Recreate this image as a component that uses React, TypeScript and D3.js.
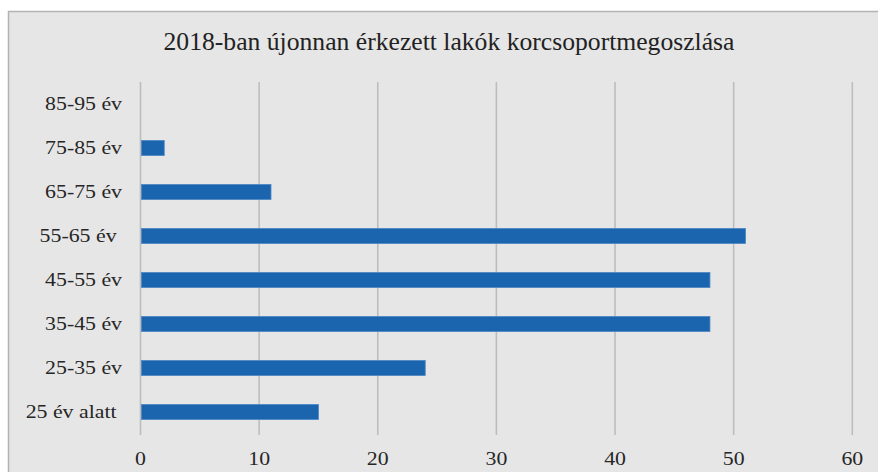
import React, { useEffect, useRef } from 'react';
import * as d3 from 'd3';

const categories = ['85-95 év', '75-85 év', '65-75 év', '55-65 év ', '45-55 év', '35-45 év', '25-35 év', '25 év alatt '];
const values = [0, 2, 11, 51, 48, 48, 24, 15];
const xTicks = [0, 10, 20, 30, 40, 50, 60];
const title = '2018-ban újonnan érkezett lakók korcsoportmegoszlása';

const WIDTH = 878;
const HEIGHT = 472;
const STRETCH = 1.18; // the source labels look horizontally stretched

function App() {
  const svgRef = useRef<SVGSVGElement>(null);

  useEffect(() => {
    if (!svgRef.current) return;
    const svg = d3.select(svgRef.current);
    svg.selectAll('*').remove();

    const font = '"Liberation Serif", "Times New Roman", serif';

    // frame / background
    svg.append('rect')
      .attr('x', 8.5)
      .attr('y', 11.5)
      .attr('width', WIDTH + 20)
      .attr('height', HEIGHT + 20)
      .attr('fill', '#e6e6e6')
      .attr('stroke', '#b3b3b3')
      .attr('stroke-width', 1.5);

    const xScale = d3.scaleLinear().domain([0, 60]).range([140.5, 852.3]);
    const yScale = d3.scaleBand<string>()
      .domain(categories)
      .range([82, 434])
      .paddingInner(0.66)
      .paddingOuter(0.33);

    // gridlines
    svg.append('g')
      .selectAll('line')
      .data(xTicks)
      .enter().append('line')
      .attr('x1', d => xScale(d))
      .attr('x2', d => xScale(d))
      .attr('y1', 82)
      .attr('y2', 435)
      .attr('stroke', '#bdbdbd')
      .attr('stroke-width', 1.6);

    // bars
    svg.append('g')
      .selectAll('rect')
      .data(values)
      .enter().append('rect')
      .attr('x', xScale(0) + 1)
      .attr('y', (d, i) => yScale(categories[i])!)
      .attr('width', d => Math.max(0, xScale(d) - xScale(0) - 1))
      .attr('height', yScale.bandwidth())
      .attr('fill', '#1b64ae')
      .attr('stroke', d => (d > 0 ? '#4a86c4' : 'none'))
      .attr('stroke-width', 0.8);

    // category labels
    svg.append('g')
      .selectAll('text')
      .data(categories)
      .enter().append('text')
      .attr('transform', d => `translate(122,${yScale(d)! + yScale.bandwidth() / 2 + 6.3}) scale(${STRETCH},1)`)
      .attr('text-anchor', 'end')
      .style('white-space', 'pre')
      .style('font-family', font)
      .style('font-size', '18.5px')
      .style('fill', '#262626')
      .text(d => d);

    // x tick labels
    svg.append('g')
      .selectAll('text')
      .data(xTicks)
      .enter().append('text')
      .attr('transform', d => `translate(${xScale(d)},465) scale(${STRETCH},1)`)
      .attr('text-anchor', 'middle')
      .style('font-family', font)
      .style('font-size', '18.5px')
      .style('fill', '#262626')
      .text(d => String(d));

    // title
    svg.append('text')
      .attr('transform', 'translate(449,50) scale(1.026,1)')
      .attr('text-anchor', 'middle')
      .style('font-family', font)
      .style('font-size', '25px')
      .style('fill', '#222')
      .text(title);
  }, []);

  return (
    <svg
      ref={svgRef}
      width={WIDTH}
      height={HEIGHT}
      style={{ position: 'absolute', left: 0, top: 0, background: '#fff' }}
    />
  );
}

export default App;
